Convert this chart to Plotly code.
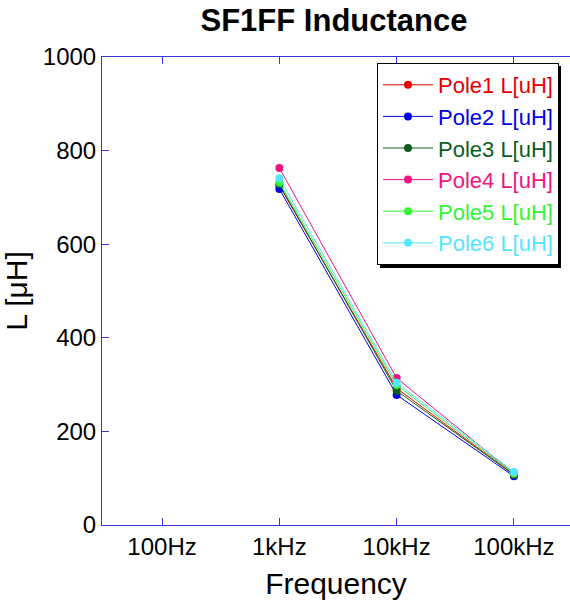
import plotly.graph_objects as go

freqs = [1000, 10000, 100000]
tick_vals = [100, 1000, 10000, 100000]
tick_text = ["100Hz", "1kHz", "10kHz", "100kHz"]

series_names = ["Pole1 L[uH]", "Pole2 L[uH]", "Pole3 L[uH]", "Pole4 L[uH]", "Pole5 L[uH]", "Pole6 L[uH]"]
pole1 = [725, 292, 108]
pole2 = [718, 278, 104]
pole3 = [728, 287, 107]
pole4 = [763, 314, 110]
pole5 = [732, 299, 110]
pole6 = [741, 304, 113]
series_values = [pole1, pole2, pole3, pole4, pole5, pole6]
colors = ["#e60000", "#0000e6", "#0b5e1e", "#f0147f", "#33f533", "#55e6ff"]

FONT = "Liberation Sans, Arial, sans-serif"
AXC = "#3535e0"

fig = go.Figure()
for name, vals, c in zip(series_names, series_values, colors):
    fig.add_trace(go.Scatter(
        x=freqs, y=vals, mode="lines+markers",
        name=f"<span style='color:{c}'>{name}</span>",
        line=dict(color=c, width=1),
        marker=dict(color=c, size=8, symbol="circle"),
    ))

W, H = 570, 609
L, R, T, B = 102, 0, 57, 84
pw = W - L - R
ph = H - T - B

def px_x(p):
    return (p - L) / pw

def px_y(p):
    return (H - B - p) / ph

fig.update_layout(
    width=W, height=H,
    margin=dict(l=L, r=R, t=T, b=B),
    paper_bgcolor="white", plot_bgcolor="white",
    font=dict(family=FONT, color="black", size=24),
    title=dict(text="<b>SF1FF Inductance</b>", x=(334) / W, xanchor="center",
               y=1 - 20 / H, yanchor="middle", font=dict(size=31, family=FONT, color="black")),
    xaxis=dict(
        type="log", range=[1.488, 5.478],
        tickvals=tick_vals, ticktext=tick_text,
        showline=True, linecolor=AXC, linewidth=1, mirror="ticks",
        ticks="inside", ticklen=7, tickcolor=AXC, tickwidth=1,
        showgrid=False, zeroline=False,
        tickfont=dict(size=24, family=FONT, color="black"),
        title=dict(text="Frequency", font=dict(size=30, family=FONT, color="black"), standoff=14),
    ),
    yaxis=dict(
        range=[0, 1000], tickvals=[0, 200, 400, 600, 800, 1000],
        showline=True, linecolor=AXC, linewidth=1, mirror=False,
        ticks="inside", ticklen=7, tickcolor=AXC, tickwidth=1,
        showgrid=False, zeroline=False,
        tickfont=dict(size=24, family=FONT, color="black"),
        title=dict(text="L [μH]", font=dict(size=30, family=FONT, color="black"), standoff=12),
    ),
    yaxis2=dict(
        overlaying="y", side="right", range=[0, 1000],
        tickvals=[0, 200, 400, 600, 800, 1000],
        showline=False, ticks="inside", ticklen=7, tickcolor=AXC, tickwidth=1,
        showticklabels=False, showgrid=False, zeroline=False,
    ),
    legend=dict(
        x=px_x(377), y=px_y(63), xanchor="left", yanchor="top",
        bgcolor="white", bordercolor="black", borderwidth=1,
        font=dict(size=22, family=FONT),
        tracegroupgap=0, itemwidth=50,
    ),
    showlegend=True,
)

fig.add_shape(type="rect", xref="paper", yref="paper",
              x0=px_x(380), x1=px_x(561), y0=px_y(66), y1=px_y(268),
              fillcolor="black", line=dict(width=0), layer="above")

fig.write_html("out.html")
